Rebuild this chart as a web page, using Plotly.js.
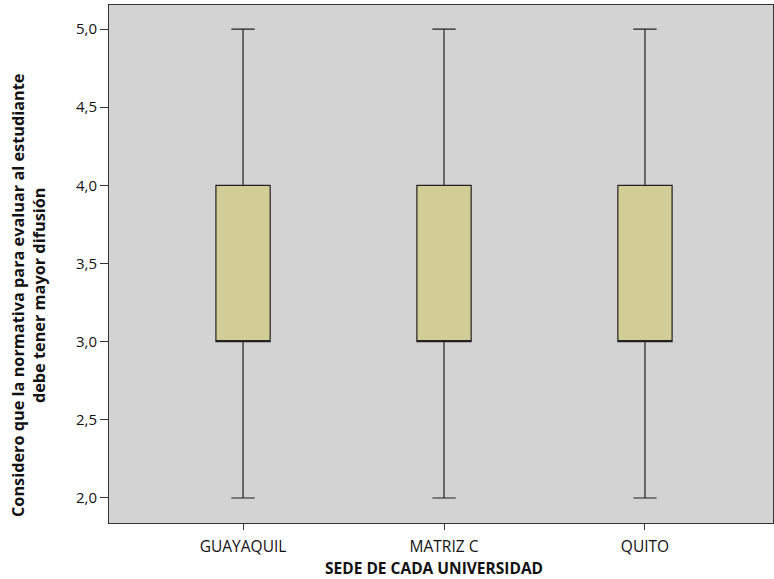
<!DOCTYPE html>
<html>
<head>
<meta charset="utf-8">
<script src="https://cdn.plot.ly/plotly-3.0.1.min.js"></script>
<style>html,body{margin:0;padding:0;background:#fff;}#chart{width:774px;height:579px;}</style>
</head>
<body>
<div id="chart"></div>
<script>
const categories = ["GUAYAQUIL", "MATRIZ C", "QUITO"];
const lowerWhisker = [2, 2, 2];
const q1Values = [3, 3, 3];
const medianValues = [3, 3, 3];
const q3Values = [4, 4, 4];
const upperWhisker = [5, 5, 5];
const yTickVals = [2.0, 2.5, 3.0, 3.5, 4.0, 4.5, 5.0];
const yTickText = ["2,0", "2,5", "3,0", "3,5", "4,0", "4,5", "5,0"];
const xTitle = "SEDE DE CADA UNIVERSIDAD";
const yTitle = "Considero que la normativa para evaluar al estudiante<br>debe tener mayor difusión";

const trace = {
  type: "box",
  x: categories,
  q1: q1Values,
  median: medianValues,
  q3: q3Values,
  lowerfence: lowerWhisker,
  upperfence: upperWhisker,
  fillcolor: "#d2cd97",
  line: {color: "#222222", width: 1.2},
  width: 0.27,
  whiskerwidth: 0.43,
  boxpoints: false,
  hoverinfo: "skip",
  showlegend: false
};

const font = "'Open Sans', 'Noto Sans', sans-serif";
const layout = {
  width: 774, height: 579,
  margin: {l: 109, r: 1, t: 5, b: 56},
  paper_bgcolor: "#ffffff",
  plot_bgcolor: "#d3d3d3",
  font: {family: font, size: 15, color: "#111"},
  xaxis: {
    type: "category",
    range: [-0.667, 2.637],
    showline: true, linecolor: "#333", linewidth: 1, mirror: true,
    ticks: "outside", ticklen: 6, tickcolor: "#333",
    ticklabelstandoff: 3,
    showgrid: false, zeroline: false,
    tickfont: {family: font, size: 15.5, color: "#111"},
    automargin: false
  },
  yaxis: {
    range: [1.84, 5.154],
    tickvals: yTickVals, ticktext: yTickText,
    showline: true, linecolor: "#333", linewidth: 1, mirror: true,
    ticks: "outside", ticklen: 8, tickcolor: "#333",
    showgrid: false, zeroline: false,
    tickfont: {family: font, size: 15, color: "#111"},
    automargin: false
  },
  annotations: [
    {text: "<b>" + xTitle + "</b>", xref: "paper", yref: "paper", x: 0.49, y: -0.087,
     xanchor: "center", yanchor: "middle", showarrow: false, borderpad: 0,
     font: {family: font, size: 15.5, color: "#111"}},
    {text: "<b>" + yTitle + "</b>", xref: "paper", yref: "paper", x: -0.122, y: 0.44,
     xanchor: "center", yanchor: "middle", showarrow: false, textangle: -90,
     font: {family: font, size: 16.3, color: "#111"}}
  ]
};

Plotly.newPlot("chart", [trace], layout, {displayModeBar: false, staticPlot: true});
</script>
</body>
</html>
